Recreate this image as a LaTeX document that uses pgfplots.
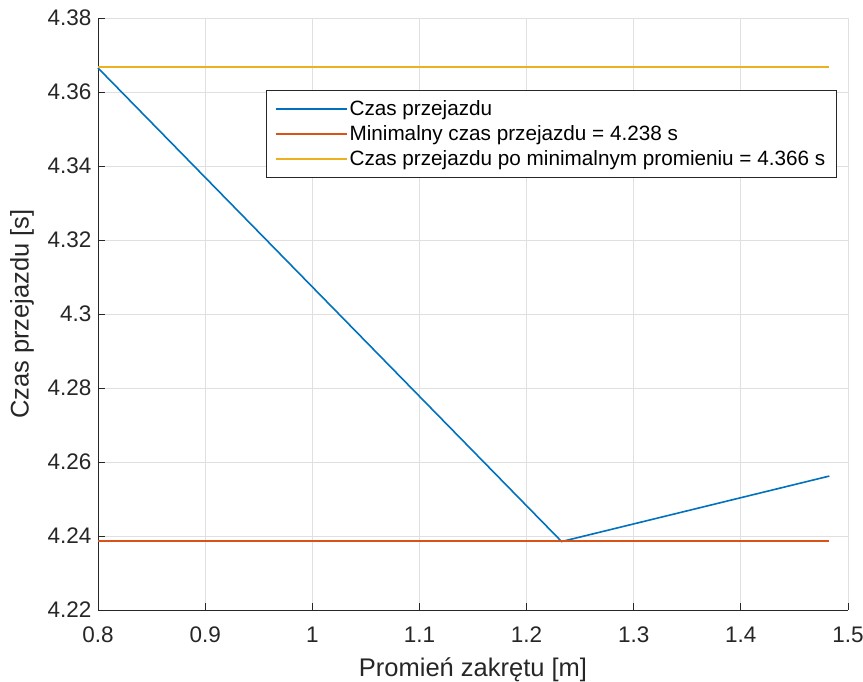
\documentclass[border=0pt]{standalone}
\usepackage{pgfplots}
\pgfplotsset{compat=1.18}
\usepackage{fontspec}
\setmainfont{Liberation Sans}
\definecolor{mblue}{rgb}{0,0.447,0.741}
\definecolor{morange}{rgb}{0.85,0.325,0.098}
\definecolor{myellow}{rgb}{0.929,0.694,0.125}
\definecolor{axgray}{rgb}{0.15,0.15,0.15}
\definecolor{gridgray}{rgb}{0.88,0.88,0.88}
\begin{document}
\begin{tikzpicture}
\path[use as bounding box] (-98bp,-72bp) rectangle (765bp,610bp);
\begin{axis}[
  scale only axis,
  width=750bp, height=592bp,
  xmin=0.8, xmax=1.5, ymin=4.22, ymax=4.38,
  xtick={0.8,0.9,...,1.51},
  ytick={4.22,4.24,...,4.381},
  xticklabels={0.8,0.9,1,1.1,1.2,1.3,1.4,1.5},
  yticklabels={4.22,4.24,4.26,4.28,4.3,4.32,4.34,4.36,4.38},
  axis lines*=left,
  axis line style={axgray, line width=0.9bp, -},
  tick align=inside,
  major tick length=7bp,
  tick style={axgray, line width=0.9bp},
  grid=major,
  major grid style={gridgray, line width=0.9bp},
  ticklabel style={font=\fontsize{22.5bp}{26bp}\selectfont, text=axgray},
  xticklabel style={yshift=-13bp},
  yticklabel style={xshift=-3bp},
  xlabel={Promień zakrętu [m]},
  ylabel={Czas przejazdu [s]},
  label style={font=\fontsize{25.5bp}{29bp}\selectfont, text=axgray},
  xlabel style={yshift=-8bp},
  ylabel style={yshift=7bp},
  legend style={at={(rel axis cs:0.985,0.878)}, anchor=north east,
    font=\fontsize{20.7bp}{23bp}\selectfont, draw=axgray, line width=0.9bp,
    inner xsep=9bp, inner ysep=8bp, row sep=4.5bp},
  legend cell align=left,
  legend image code/.code={\draw[#1, line width=1.6bp] (0bp,0bp) -- (71bp,0bp);},
  clip=false,
]
\addplot[draw=mblue, line width=1.6bp] coordinates {(0.8,4.3665) (1.2327,4.2385) (1.4826,4.2562)};
\addlegendentry{Czas przejazdu}
\addplot[draw=morange, line width=1.8bp] coordinates {(0.8,4.23855) (1.0,4.23855) (1.2,4.23855) (1.4826,4.23855)};
\addlegendentry{Minimalny czas przejazdu = 4.238 s}
\addplot[draw=myellow, line width=1.8bp] coordinates {(0.8,4.36665) (1.0,4.36665) (1.2,4.36665) (1.4826,4.36665)};
\addlegendentry{Czas przejazdu po minimalnym promieniu = 4.366 s}
\end{axis}
\end{tikzpicture}
\end{document}
